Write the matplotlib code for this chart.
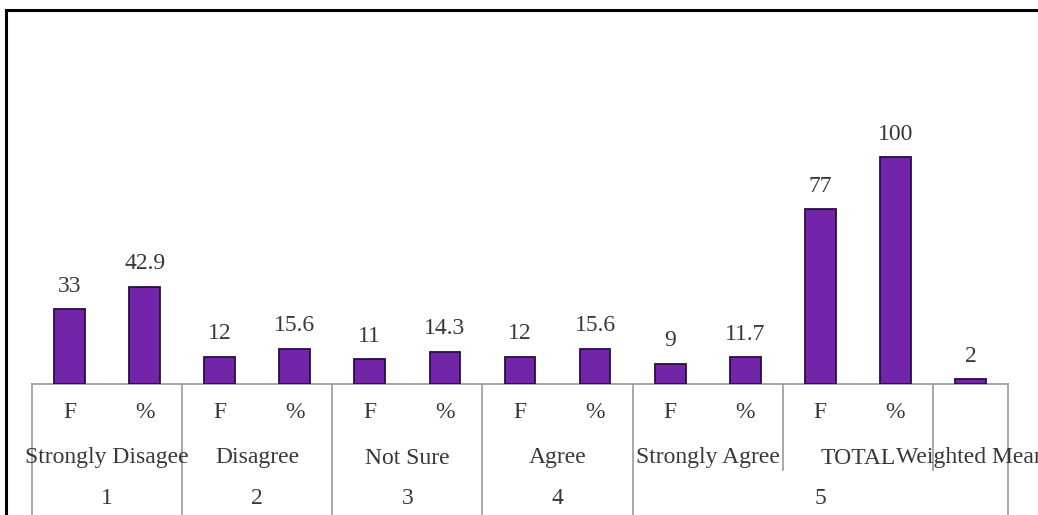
import matplotlib
matplotlib.use("Agg")
import matplotlib.pyplot as plt
from matplotlib.patches import Rectangle

# ---- data ----------------------------------------------------------------
sub_labels = ["F", "%", "F", "%", "F", "%", "F", "%", "F", "%", "F", "%", ""]
values = [33, 42.9, 12, 15.6, 11, 14.3, 12, 15.6, 9, 11.7, 77, 100, 2]
value_text = ["33", "42.9", "12", "15.6", "11", "14.3", "12", "15.6", "9", "11.7", "77", "100", "2"]
mid_labels = ["Strongly Disagee", "Disagree", "Not Sure", "Agree", "Strongly Agree",
              "TOTAL", "Weighted Mean"]
mid_spans = [(0, 2), (2, 4), (4, 6), (6, 8), (8, 10), (10, 12), (12, 13)]
top_labels = ["1", "2", "3", "4", "5"]
top_spans = [(0, 2), (2, 4), (4, 6), (6, 8), (8, 13)]

W, H = 1038, 515
BASE = 384          # baseline pixel row
TOP = 30            # axes top pixel row
PX_PER_UNIT = 2.27
FS = 17
TXT = "#383838"

plt.rcParams["font.family"] = ["Liberation Serif", "DejaVu Serif"]
fig = plt.figure(figsize=(W / 100, H / 100), dpi=100)
ax = fig.add_axes([32 / W, (H - BASE) / H, (1008 - 32) / W, (BASE - TOP) / H])
n = len(values)
ax.set_xlim(-0.5, n - 0.5)
ax.set_ylim(0, (BASE - TOP) / PX_PER_UNIT)
for s in ax.spines.values():
    s.set_visible(False)
ax.set_xticks([]); ax.set_yticks([])

x = list(range(n))
ax.bar(x, values, width=0.41, color="#7225a8", edgecolor="#2b0d45", linewidth=1.3, zorder=3)
for xi, v, t in zip(x, values, value_text):
    ax.annotate(t, (xi, v), xytext=(0, 9), textcoords="offset points",
                ha="center", va="bottom", fontsize=FS, color=TXT)

# ---- multi-level category axis -----------------------------------------
ah = BASE - TOP


def yax(py):
    """pixel row -> axes fraction"""
    return (BASE - py) / ah


tr = ax.get_xaxis_transform()
grey = "#9a9a9a"
ax.plot([-0.5, n - 0.5], [0, 0], color=grey, lw=1.2, transform=tr, clip_on=False)
full = sorted({a for a, _ in top_spans} | {top_spans[-1][1]})
short = sorted({a for a, _ in mid_spans} - set(full))
for b in full:
    ax.plot([b - 0.5, b - 0.5], [0, yax(520)], color=grey, lw=1.2, transform=tr, clip_on=False)
for b in short:
    ax.plot([b - 0.5, b - 0.5], [0, yax(470)], color=grey, lw=1.2, transform=tr, clip_on=False)

for xi, lab in zip(x, sub_labels):
    ax.text(xi, yax(413), lab, ha="center", va="center", fontsize=FS,
            color=TXT, transform=tr, clip_on=False)
for (a, b), lab in zip(mid_spans, mid_labels):
    ax.text((a + b - 1) / 2, yax(458), lab, ha="center", va="center", fontsize=FS,
            color=TXT, transform=tr, clip_on=False)
for (a, b), lab in zip(top_spans, top_labels):
    ax.text((a + b - 1) / 2, yax(499), lab, ha="center", va="center", fontsize=FS,
            color=TXT, transform=tr, clip_on=False)

# outer chart frame (cropped on right and bottom)
fig.patches.append(Rectangle((6 / W, -0.1), 1.2, (H - 10) / H + 0.1, transform=fig.transFigure,
                             fill=False, edgecolor="black", lw=2.2))

fig.savefig("out.png", dpi=100)
